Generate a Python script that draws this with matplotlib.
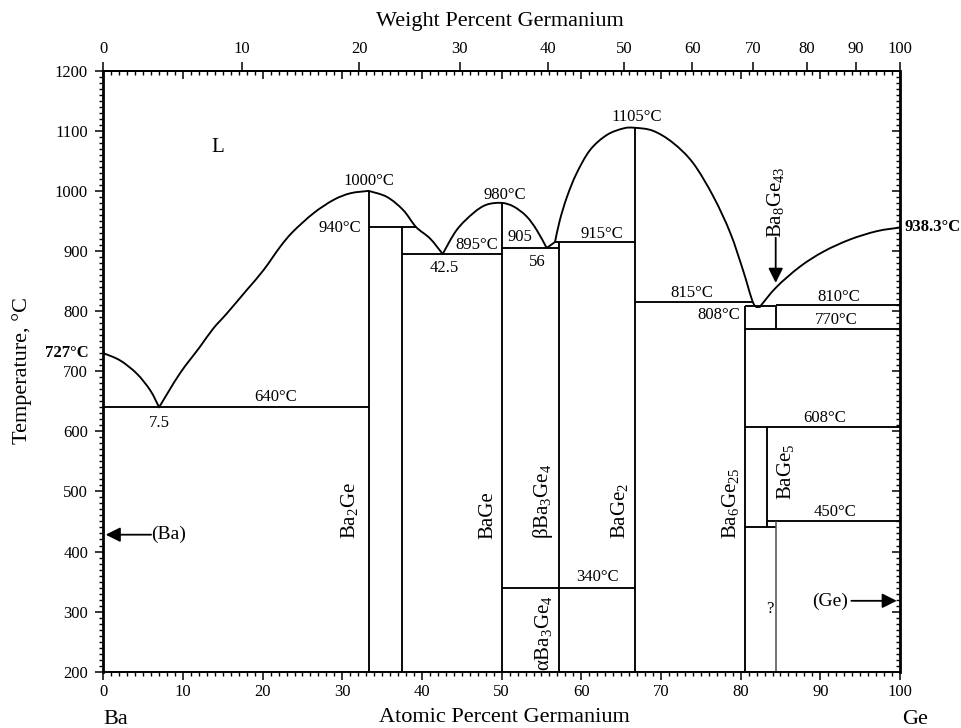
import numpy as np
import matplotlib
matplotlib.use("Agg")
import matplotlib.pyplot as plt
from matplotlib.ticker import MultipleLocator, FixedLocator, NullLocator
from matplotlib.path import Path
from matplotlib.patches import PathPatch

plt.rcParams['font.family'] = ['Liberation Serif', 'DejaVu Serif']
plt.rcParams['mathtext.fontset'] = 'custom'
plt.rcParams['mathtext.rm'] = 'Liberation Serif'
plt.rcParams['mathtext.it'] = 'Liberation Serif:italic'
plt.rcParams['mathtext.bf'] = 'Liberation Serif:bold'

# ---------------- data ----------------
M_GE = 72.63
M_BA = 137.33

# liquidus segments (at.% Ge, deg C)
liq1_x = [0, 2.1, 4.2, 5.9, 7.0]
liq1_T = [730, 718, 696, 668, 640]
liq2_x = [7.0, 9.6, 12.1, 13.8, 15.5, 18.0, 20.1, 22.2, 23.8, 26.4, 28.9, 31.0, 33.3]
liq2_T = [640, 696, 740, 771, 796, 835, 868, 907, 932, 963, 985, 996, 1000]
liq3_x = [33.3, 35.6, 37.65, 39.25, 41.0, 42.6]
liq3_T = [1000, 990, 968, 940, 921, 895]
liq4_x = [42.6, 44.36, 46.44, 48.1, 50.0, 51.5, 53.1, 54.4, 55.65]
liq4_T = [895, 935, 963, 977, 980, 974, 958, 935, 905]
liq5_x = [55.65, 56.7]
liq5_T = [905, 915]
liq6_x = [56.7, 57.3, 58.2, 59.4, 61.1, 63.2, 65.3, 66.7, 69.0, 71.5, 74.05, 76.6, 78.7, 80.3, 81.6, 82.4]
liq6_T = [915, 951, 990, 1029, 1068, 1093, 1104, 1105, 1100, 1080, 1046, 990, 930, 868, 813, 807]
liq7_x = [82.4, 84.5, 87.45, 90.4, 93.7, 97.1, 100]
liq7_T = [807, 840, 874, 899, 919, 933, 939]

# isotherms: temperature, x start, x end
iso_T  = [640, 940, 895, 905, 915, 815, 808, 810, 770, 608, 450, 340, 440]
iso_x0 = [0, 33.3, 37.5, 50, 56.7, 66.7, 80.6, 84.4, 80.6, 80.6, 83.3, 50, 80.6]
iso_x1 = [33.3, 39.25, 50, 57.14, 66.7, 81.6, 84.4, 100, 100, 100, 100, 66.7, 84.5]

# compound lines: x, T bottom, T top
comp_x  = [33.3, 37.5, 50, 57.14, 66.7, 80.6, 84.4, 83.3]
comp_T0 = [200, 200, 200, 200, 200, 200, 770, 440]
comp_T1 = [1000, 940, 980, 915, 1105, 808, 808, 608]

# uncertain boundary (lighter)
unc_v_x, unc_v_T0, unc_v_T1 = 84.5, 200, 450

wt_ticks = [0, 10, 20, 30, 40, 50, 60, 70, 80, 90, 100]


def smooth_path(xs, ys):
    """Catmull-Rom curve through the given points, as cubic Bezier path."""
    p = np.column_stack([xs, ys]).astype(float)
    n = len(p)
    if n < 3:
        return Path(p)
    ext = np.vstack([p[0], p, p[-1]])
    verts = [p[0]]
    codes = [Path.MOVETO]
    for i in range(n - 1):
        p0, p1, p2, p3 = ext[i], ext[i + 1], ext[i + 2], ext[i + 3]
        c1 = p1 + (p2 - p0) / 6.0
        c2 = p2 - (p3 - p1) / 6.0
        verts += [c1, c2, p2]
        codes += [Path.CURVE4] * 3
    return Path(np.array(verts), codes)


# ---------------- figure ----------------
fig = plt.figure(figsize=(9.61, 7.28), dpi=100)
ax = fig.add_axes([0.1075, 0.0773, 0.8290, 0.8256])
ax.set_xlim(0, 100)
ax.set_ylim(200, 1200)

lw = 1.35
for xs, ts in [(liq1_x, liq1_T), (liq2_x, liq2_T), (liq3_x, liq3_T), (liq4_x, liq4_T),
               (liq5_x, liq5_T), (liq6_x, liq6_T), (liq7_x, liq7_T)]:
    ax.add_patch(PathPatch(smooth_path(xs, ts), fill=False, edgecolor='black', lw=lw,
                           joinstyle='round', capstyle='round'))

ax.hlines(iso_T, iso_x0, iso_x1, color='black', lw=lw)
ax.vlines(comp_x, comp_T0, comp_T1, color='black', lw=lw)
ax.vlines([unc_v_x], [unc_v_T0], [unc_v_T1], color='0.3', lw=1.1)

# ---------------- text labels ----------------
fs = 12
ax.text(14.4, 1073, 'L', fontsize=15, ha='center', va='center')
ax.text(33.35, 1017, '1000°C', fontsize=fs, ha='center', va='center')
ax.text(32.4, 939, '940°C', fontsize=fs, ha='right', va='center')
ax.text(42.8, 871, '42.5', fontsize=fs, ha='center', va='center')
ax.text(46.9, 910, '895°C', fontsize=fs, ha='center', va='center')
ax.text(50.4, 993, '980°C', fontsize=fs, ha='center', va='center')
ax.text(52.3, 923, '905', fontsize=fs, ha='center', va='center')
ax.text(54.5, 881, '56', fontsize=fs, ha='center', va='center')
ax.text(62.6, 929, '915°C', fontsize=fs, ha='center', va='center')
ax.text(66.95, 1123, '1105°C', fontsize=fs, ha='center', va='center')
ax.text(73.85, 830, '815°C', fontsize=fs, ha='center', va='center')
ax.text(79.9, 793, '808°C', fontsize=fs, ha='right', va='center')
ax.text(92.3, 824, '810°C', fontsize=fs, ha='center', va='center')
ax.text(92.05, 786, '770°C', fontsize=fs, ha='center', va='center')
ax.text(100.6, 940, '938.3°C', fontsize=fs, ha='left', va='center', fontweight='bold', clip_on=False)
ax.text(-1.9, 731, '727°C', fontsize=fs, ha='right', va='center', fontweight='bold', clip_on=False)
ax.text(7.1, 613, '7.5', fontsize=fs, ha='center', va='center')
ax.text(21.6, 657, '640°C', fontsize=fs, ha='center', va='center')
ax.text(90.6, 622, '608°C', fontsize=fs, ha='center', va='center')
ax.text(91.8, 466, '450°C', fontsize=fs, ha='center', va='center')
ax.text(62.05, 357, '340°C', fontsize=fs, ha='center', va='center')
ax.text(83.7, 305, '?', fontsize=fs, ha='center', va='center')

# phase labels (rotated)
rfs = 15
ax.text(30.95, 420, 'Ba$_2$Ge', fontsize=rfs, rotation=90, ha='center', va='bottom')
ax.text(48.3, 420, 'BaGe', fontsize=rfs, rotation=90, ha='center', va='bottom')
ax.text(55.2, 420, 'βBa$_3$Ge$_4$', fontsize=rfs, rotation=90, ha='center', va='bottom')
ax.text(64.85, 420, 'BaGe$_2$', fontsize=rfs, rotation=90, ha='center', va='bottom')
ax.text(55.2, 201, 'αBa$_3$Ge$_4$', fontsize=rfs, rotation=90, ha='center', va='bottom')
ax.text(78.7, 420, 'Ba$_6$Ge$_{25}$', fontsize=rfs, rotation=90, ha='center', va='bottom')
ax.text(85.6, 486, 'BaGe$_5$', fontsize=rfs, rotation=90, ha='center', va='bottom')
ax.text(84.4, 922, 'Ba$_8$Ge$_{43}$', fontsize=rfs, rotation=90, ha='center', va='bottom')

arrow = dict(arrowstyle='-|>', color='black', lw=1.3, mutation_scale=22, shrinkA=0, shrinkB=0)
ax.annotate('', xy=(84.4, 847), xytext=(84.4, 922), arrowprops=arrow)
ax.annotate('', xy=(99.6, 318), xytext=(93.9, 318), arrowprops=arrow)
ax.text(91.2, 317, '(Ge)', fontsize=14, ha='center', va='center')
ax.annotate('', xy=(0.3, 428), xytext=(6.0, 428), arrowprops=arrow)
ax.text(8.2, 428, '(Ba)', fontsize=14, ha='center', va='center')

# ---------------- axes / ticks ----------------
ax.xaxis.set_major_locator(MultipleLocator(10))
ax.xaxis.set_minor_locator(MultipleLocator(1))
ax.yaxis.set_major_locator(MultipleLocator(100))
ax.yaxis.set_minor_locator(MultipleLocator(10))
ax.tick_params(axis='both', which='major', direction='out', length=6, width=1.1, labelsize=12)
ax.tick_params(axis='both', which='minor', direction='out', length=3, width=1.0)
ax.tick_params(axis='x', which='major', pad=3)
ax.tick_params(axis='y', which='major', pad=5)
ax.tick_params(top=False, right=False, which='both')

for side, w in [('left', 2.0), ('right', 2.0), ('bottom', 1.4), ('top', 1.4)]:
    ax.spines[side].set_linewidth(w)

# top inward at.% ticks
axT = ax.twiny()
axT.set_xlim(0, 100)
axT.xaxis.set_major_locator(MultipleLocator(10))
axT.xaxis.set_minor_locator(MultipleLocator(1))
axT.tick_params(axis='x', which='major', direction='in', length=6, width=1.1, labeltop=False, top=True, bottom=False)
axT.tick_params(axis='x', which='minor', direction='in', length=3, width=1.0, top=True, bottom=False)
for s in axT.spines.values():
    s.set_visible(False)

# right inward ticks
axR = ax.twinx()
axR.set_ylim(200, 1200)
axR.yaxis.set_major_locator(MultipleLocator(100))
axR.yaxis.set_minor_locator(MultipleLocator(10))
axR.tick_params(axis='y', which='major', direction='in', length=6, width=1.1, labelright=False, right=True, left=False)
axR.tick_params(axis='y', which='minor', direction='in', length=3, width=1.0, right=True, left=False)
for s in axR.spines.values():
    s.set_visible(False)


def at2wt(a):
    a = np.asarray(a, dtype=float)
    with np.errstate(divide='ignore', invalid='ignore'):
        return 100.0 * a * M_GE / (a * M_GE + (100.0 - a) * M_BA)


def wt2at(w):
    w = np.asarray(w, dtype=float)
    with np.errstate(divide='ignore', invalid='ignore'):
        return 100.0 * (w / M_GE) / (w / M_GE + (100.0 - w) / M_BA)


sec = ax.secondary_xaxis('top', functions=(at2wt, wt2at))
sec.xaxis.set_major_locator(FixedLocator(wt_ticks))
sec.xaxis.set_minor_locator(NullLocator())
sec.set_xticklabels([str(t) for t in wt_ticks])
sec.tick_params(axis='x', which='major', direction='out', length=6.5, width=1.1, labelsize=12, pad=3)
sec.spines['top'].set_linewidth(1.4)

# axis titles
W, H = 961.0, 728.0
fig.text(500 / W, 1 - 21.7 / H, 'Weight Percent Germanium', fontsize=16, ha='center', va='center')
fig.text(504 / W, 1 - 718 / H, 'Atomic Percent Germanium', fontsize=16, ha='center', va='center')
fig.text(103.3 / W, 1 - 720 / H, 'Ba', fontsize=16, ha='left', va='center')
fig.text(901.7 / W, 1 - 720 / H, 'Ge', fontsize=16, ha='left', va='center')
fig.text(21.7 / W, 1 - 371 / H, 'Temperature, °C', fontsize=16, ha='center', va='center', rotation=90)

fig.savefig('out.png', dpi=100)
